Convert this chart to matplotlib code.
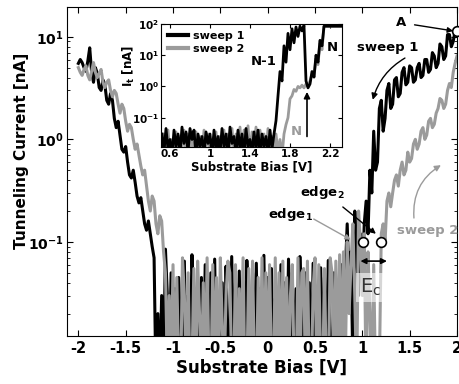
import numpy as np
import matplotlib
matplotlib.use('Agg')
import matplotlib.pyplot as plt
from matplotlib.ticker import FixedLocator, NullLocator, LogLocator, NullFormatter

plt.rcParams['font.family'] = ['DejaVu Sans']
plt.rcParams['font.weight'] = 'bold'
plt.rcParams['mathtext.default'] = 'regular'

# ---------------- main panel data (V, nA) ----------------
main_x_start = -2.0
main_x_step = 0.02
sweep1_main = [
    5.5, 6.0, 5.6, 5.0, 4.6, 5.8, 7.8, 4.5, 3.6, 5.0,
    4.4, 3.2, 3.0, 3.8, 3.4, 2.4, 2.2, 2.8, 2.4, 1.6,
    1.3, 1.5, 1.1, 0.8, 0.75, 0.85, 0.6, 0.45, 0.42, 0.5,
    0.38, 0.28, 0.24, 0.27, 0.2, 0.15, 0.13, 0.16, 0.12, 0.09,
    0.07, 0.004, 0.02, 0.004, 0.03, 0.005, 0.085, 0.03, 0.006, 0.05,
    0.004, 0.035, 0.004, 0.045, 0.015, 0.005, 0.065, 0.004, 0.03, 0.006,
    0.075, 0.02, 0.004, 0.035, 0.005, 0.045, 0.004, 0.06, 0.01, 0.004,
    0.05, 0.005, 0.068, 0.004, 0.025, 0.006, 0.04, 0.004, 0.058, 0.012,
    0.004, 0.072, 0.006, 0.04, 0.004, 0.052, 0.005, 0.03, 0.004, 0.066,
    0.02, 0.004, 0.05, 0.005, 0.062, 0.004, 0.035, 0.006, 0.074, 0.004,
    0.045, 0.005, 0.055, 0.004, 0.028, 0.015, 0.004, 0.06, 0.005, 0.04,
    0.004, 0.068, 0.006, 0.05, 0.004, 0.035, 0.005, 0.072, 0.02, 0.004,
    0.05, 0.005, 0.04, 0.004, 0.062, 0.006, 0.03, 0.004, 0.056, 0.005,
    0.045, 0.004, 0.066, 0.01, 0.004, 0.05, 0.005, 0.04, 0.004, 0.06,
    0.006, 0.05, 0.15, 0.04, 0.08, 0.006, 0.2, 0.07, 0.03, 0.12,
    0.04, 0.15, 0.25, 0.12, 0.5, 0.3, 1.2, 0.5, 0.6, 2.0,
    2.4, 1.2, 1.6, 3.0, 3.5, 2.0, 2.2, 3.8, 4.0, 2.6,
    2.8, 4.5, 5.0, 3.4, 3.6, 5.2, 5.0, 3.6, 3.8, 5.0,
    5.5, 4.0, 4.2, 6.0, 6.0, 4.5, 4.8, 7.0, 6.5, 5.0,
    5.5, 8.5, 8.0, 6.0, 6.5, 10.5, 10.5, 8.0, 9.0, 11.5,
    12.0,
]
sweep2_main = [
    5.0, 4.5, 4.2, 4.8, 5.2, 4.2, 3.8, 4.6, 5.6, 4.5,
    4.0, 4.4, 4.8, 3.6, 3.2, 3.6, 3.8, 3.0, 2.6, 3.0,
    2.8, 2.2, 1.8, 2.2, 2.0, 1.5, 1.2, 1.4, 1.3, 1.0,
    0.8, 0.9, 0.7, 0.55, 0.45, 0.5, 0.35, 0.25, 0.2, 0.28,
    0.25, 0.15, 0.12, 0.18, 0.16, 0.08, 0.05, 0.006, 0.03, 0.005,
    0.06, 0.004, 0.045, 0.006, 0.004, 0.07, 0.03, 0.005, 0.05, 0.004,
    0.006, 0.055, 0.004, 0.065, 0.02, 0.005, 0.04, 0.004, 0.07, 0.006,
    0.004, 0.06, 0.005, 0.045, 0.004, 0.07, 0.015, 0.005, 0.03, 0.065,
    0.05, 0.005, 0.004, 0.06, 0.004, 0.035, 0.006, 0.07, 0.004, 0.005,
    0.055, 0.004, 0.065, 0.006, 0.004, 0.045, 0.005, 0.07, 0.004, 0.05,
    0.004, 0.06, 0.006, 0.004, 0.07, 0.005, 0.05, 0.004, 0.065, 0.006,
    0.045, 0.004, 0.03, 0.06, 0.005, 0.004, 0.07, 0.004, 0.05, 0.055,
    0.004, 0.065, 0.005, 0.004, 0.035, 0.07, 0.004, 0.06, 0.006, 0.004,
    0.055, 0.005, 0.004, 0.07, 0.05, 0.004, 0.065, 0.006, 0.075, 0.004,
    0.08, 0.006, 0.1, 0.02, 0.06, 0.15, 0.03, 0.004, 0.2, 0.1,
    0.03, 0.12, 0.004, 0.08, 0.02, 0.004, 0.06, 0.004, 0.004, 0.006,
    0.12, 0.15, 0.1, 0.25, 0.3, 0.22, 0.3, 0.4, 0.45, 0.35,
    0.5, 0.6, 0.45, 0.5, 0.75, 0.6, 0.65, 0.9, 1.0, 0.8,
    0.9, 1.2, 1.3, 1.0, 1.1, 1.5, 1.6, 1.3, 1.4, 1.8,
    2.0, 2.5, 2.4, 2.0, 2.2, 3.0, 3.5, 3.2, 4.5, 5.5,
    6.5,
]
main_xticks = [-2, -1.5, -1, -0.5, 0, 0.5, 1, 1.5, 2]
main_xticklabels = ['-2', '-1.5', '-1', '-0.5', '0', '0.5', '1', '1.5', '2']
main_yticks = [0.1, 1, 10]
main_yticklabels = ['10$^{-1}$', '10$^{0}$', '10$^{1}$']

# ---------------- inset data ----------------
inset_x_start = 0.52
inset_x_step = 0.02
sweep1_inset = [
    0.03, 0.008, 0.045, 0.01, 0.02, 0.006, 0.04, 0.012, 0.03, 0.007,
    0.05, 0.015, 0.035, 0.008, 0.045, 0.02, 0.04, 0.006, 0.03, 0.012,
    0.025, 0.007, 0.035, 0.015, 0.03, 0.006, 0.04, 0.01, 0.025, 0.007,
    0.045, 0.012, 0.03, 0.006, 0.05, 0.015, 0.025, 0.007, 0.04, 0.01,
    0.03, 0.006, 0.045, 0.012, 0.02, 0.007, 0.035, 0.01, 0.04, 0.006,
    0.03, 0.012, 0.025, 0.007, 0.04, 0.01, 0.03,
    0.08, 0.5, 3, 1.5, 20, 6, 50, 15, 70, 25,
    80, 40, 85, 60, 90, 1.5, 0.9, 1.2, 3, 2,
    10, 6, 30, 20, 85,
    85, 85, 85, 85, 85, 85, 85, 85, 85,
]
sweep2_inset = [
    0.006, 0.03, 0.01, 0.04, 0.007, 0.02, 0.012, 0.035, 0.006, 0.025,
    0.01, 0.04, 0.007, 0.03, 0.012, 0.02, 0.006, 0.035, 0.01, 0.025,
    0.007, 0.04, 0.012, 0.03, 0.006, 0.02, 0.01, 0.035, 0.007, 0.025,
    0.012, 0.04, 0.006, 0.03, 0.01, 0.045, 0.007, 0.03, 0.012, 0.05,
    0.006, 0.04, 0.01, 0.055, 0.007, 0.035, 0.012, 0.05, 0.006, 0.04,
    0.01, 0.03, 0.007, 0.045, 0.012, 0.025, 0.006, 0.03, 0.008, 0.02,
    0.006,
    0.03, 0.06, 0.1, 0.4, 0.5, 0.8, 0.7, 1.0, 0.9, 1.1,
    0.9, 1.2, 1.0, 1.5, 2.5, 2, 8, 5, 25, 15,
    85,
    85, 85, 85, 85, 85, 85, 85, 85, 85,
]
inset_xticks = [0.6, 1.0, 1.4, 1.8, 2.2]
inset_xticklabels = ['0.6', '1', '1.4', '1.8', '2.2']
inset_yticks = [0.1, 1, 10, 100]
inset_yticklabels = ['10$^{-1}$', '10$^{0}$', '10$^{1}$', '10$^{2}$']

BLACK = '#000000'
GRAY = '#9b9b9b'

x_main = main_x_start + main_x_step * np.arange(len(sweep1_main))
x_main2 = main_x_start + main_x_step * np.arange(len(sweep2_main))
x_in1 = inset_x_start + inset_x_step * np.arange(len(sweep1_inset))
x_in2 = inset_x_start + inset_x_step * np.arange(len(sweep2_inset))

W, H = 459, 384
fig = plt.figure(figsize=(W / 100, H / 100), dpi=100)

ax = fig.add_axes([67 / W, 48 / H, 390 / W, 329 / H])
ax.plot(x_main, sweep1_main, color=BLACK, lw=2.2)
ax.plot(x_main2, sweep2_main, color=GRAY, lw=2.2)
ax.set_yscale('log')
ax.set_xlim(-2.12, 2.0)
ax.set_ylim(0.0121, 19.5)
ax.xaxis.set_major_locator(FixedLocator(main_xticks))
ax.set_xticklabels(main_xticklabels)
ax.yaxis.set_major_locator(FixedLocator(main_yticks))
ax.set_yticklabels(main_yticklabels)
ax.yaxis.set_minor_locator(LogLocator(base=10, subs=np.arange(2, 10)))
ax.yaxis.set_minor_formatter(NullFormatter())
ax.tick_params(which='both', direction='in', top=True, right=True)
ax.tick_params(axis='x', labelsize=10.5)
ax.tick_params(axis='y', labelsize=10, pad=2.5)
ax.tick_params(which='major', length=4, width=0.8)
ax.tick_params(which='minor', length=2.5, width=0.6)
for lab in ax.get_xticklabels() + ax.get_yticklabels():
    lab.set_fontweight('bold')
ax.set_xlabel('Substrate Bias [V]', fontsize=12, fontweight='bold', labelpad=2)
fig.text(22 / W, 1 - 151 / H, 'Tunneling Current [nA]', rotation=90, ha='center',
         va='center', fontsize=11, fontweight='bold')

# annotations (main)
ANN = 9.5
ax.annotate('A', xy=(1.96, 11.4), xytext=(1.41, 13.7), fontsize=ANN, fontweight='bold',
            ha='center', va='center',
            arrowprops=dict(arrowstyle='-|>', color='k', lw=1.0, shrinkA=4, shrinkB=0,
                            mutation_scale=8))
ax.plot([2.0], [11.5], 'o', ms=7, mfc='white', mec='k', mew=1.2, clip_on=False, zorder=5)
ax.text(1.27, 7.8, 'sweep 1', fontsize=ANN, fontweight='bold', ha='center', va='center')
ax.annotate('', xy=(1.11, 2.43), xytext=(1.45, 6.2),
            arrowprops=dict(arrowstyle='-|>', color='k', lw=1.0, mutation_scale=9,
                            connectionstyle='arc3,rad=0.2', shrinkA=0, shrinkB=0))
ax.text(1.69, 0.128, 'sweep 2', fontsize=ANN, fontweight='bold', ha='center', va='center',
        color=GRAY)
ax.annotate('', xy=(1.83, 0.56), xytext=(1.545, 0.171),
            arrowprops=dict(arrowstyle='-|>', color=GRAY, lw=1.0, mutation_scale=9,
                            connectionstyle='arc3,rad=-0.3', shrinkA=0, shrinkB=0))
ax.text(0.58, 0.30, 'edge$_2$', fontsize=ANN, fontweight='bold', ha='center', va='center')
ax.text(0.24, 0.183, 'edge$_1$', fontsize=ANN, fontweight='bold', ha='center', va='center')
ax.annotate('', xy=(0.878, 0.105), xytext=(0.487, 0.167),
            arrowprops=dict(arrowstyle='-|>', color=GRAY, lw=1.0, mutation_scale=8,
                            shrinkA=0, shrinkB=0))
ax.annotate('', xy=(1.143, 0.12), xytext=(0.794, 0.219),
            arrowprops=dict(arrowstyle='-|>', color='k', lw=1.0, mutation_scale=8,
                            shrinkA=0, shrinkB=0))
ax.plot([1.01, 1.2], [0.1, 0.1], 'o', ms=7, mfc='white', mec='k', mew=1.2, zorder=5)
ax.annotate('', xy=(1.26, 0.065), xytext=(0.98, 0.065),
            arrowprops=dict(arrowstyle='<|-|>', color='k', lw=1.2, mutation_scale=8,
                            shrinkA=0, shrinkB=0))
ax.text(1.09, 0.036, 'E$_c$', fontsize=14, ha='center', va='center', color='#333333',
        fontweight='normal',
        bbox=dict(boxstyle='square,pad=0.2', fc='white', ec='none', alpha=0.6))

# ---------------- inset ----------------
ins = fig.add_axes([161 / W, 237 / H, 181 / W, 123 / H])
ins.set_facecolor('white')
ins.plot(x_in2, sweep2_inset, color=GRAY, lw=2.0, label='sweep 2')
ins.plot(x_in1, sweep1_inset, color=BLACK, lw=2.0, label='sweep 1')
ins.set_yscale('log')
ins.set_xlim(0.51, 2.32)
ins.set_ylim(0.0115, 100)
ins.xaxis.set_major_locator(FixedLocator(inset_xticks))
ins.set_xticklabels(inset_xticklabels)
ins.yaxis.set_major_locator(FixedLocator(inset_yticks))
ins.set_yticklabels(inset_yticklabels)
ins.yaxis.set_minor_locator(NullLocator())
ins.tick_params(which='both', direction='in', top=True, right=True, labelsize=7.5,
                length=3, pad=1.5)
for lab in ins.get_xticklabels() + ins.get_yticklabels():
    lab.set_fontweight('bold')
ins.set_xlabel('Substrate Bias [V]', fontsize=8.5, fontweight='bold', labelpad=1)
fig.text(129 / W, 1 - 66 / H, 'I$_t$ [nA]', rotation=90, ha='center', va='center',
         fontsize=8.5, fontweight='bold')
h, l = ins.get_legend_handles_labels()
ins.legend(h[::-1], l[::-1], loc='upper left', frameon=False,
           handlelength=1.8, borderaxespad=0.2, labelspacing=0.3, handletextpad=0.5,
           prop=dict(weight='bold', size=8))
for line in ins.get_legend().get_lines():
    line.set_linewidth(3.0)
ins.text(1.535, 6.1, 'N-1', fontsize=9.5, fontweight='bold', ha='center', va='center')
ins.text(2.225, 17.8, 'N', fontsize=9.5, fontweight='bold', ha='center', va='center')
ins.text(1.86, 0.035, 'N', fontsize=9.5, fontweight='bold', ha='center', va='center',
         color=GRAY)
ins.annotate('', xy=(1.97, 0.67), xytext=(1.97, 0.025),
             arrowprops=dict(arrowstyle='-|>', color='k', lw=1.2, mutation_scale=9,
                             shrinkA=0, shrinkB=0))

fig.savefig('out.png', dpi=100)
